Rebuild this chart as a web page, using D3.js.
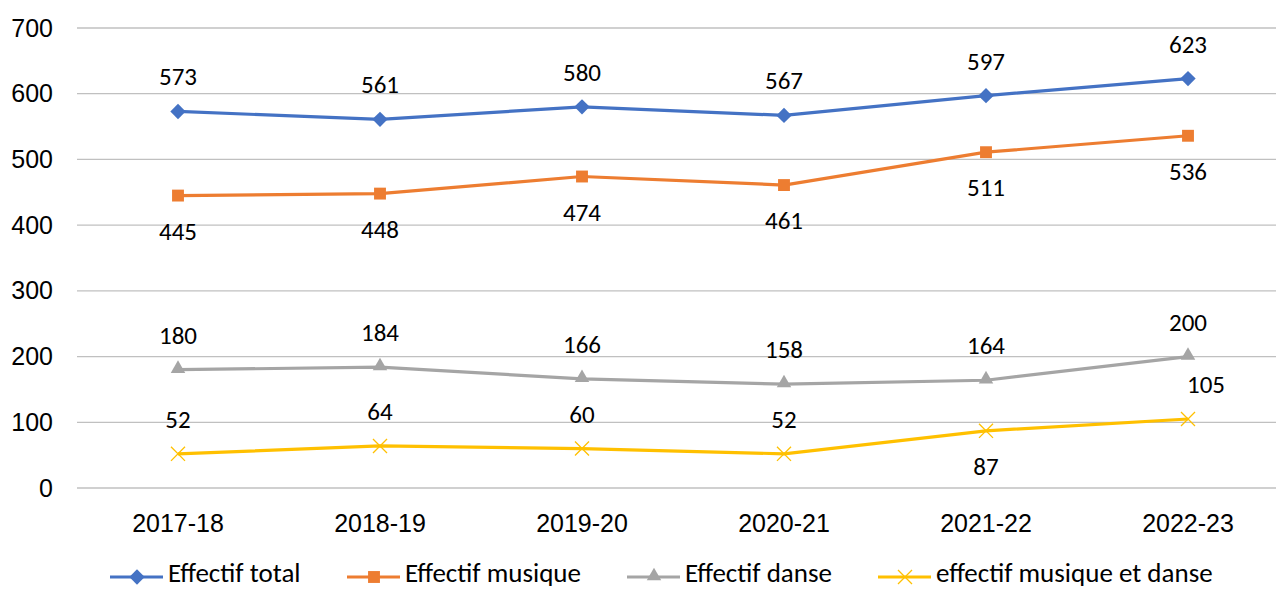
<!DOCTYPE html>
<html>
<head>
<meta charset="utf-8">
<script src="https://cdn.jsdelivr.net/npm/d3@7"></script>
<style>
  body { margin: 0; background: #fff; }
  svg { display: block; font-family: Carlito, Calibri, "Open Sans", sans-serif; }
</style>
</head>
<body>
<svg id="chart" width="1276" height="589"></svg>
<script>
const years = ['2017-18', '2018-19', '2019-20', '2020-21', '2021-22', '2022-23']
const total = [573, 561, 580, 567, 597, 623]
const musique = [445, 448, 474, 461, 511, 536]
const danse = [180, 184, 166, 158, 164, 200]
const musiqueEtDanse = [52, 64, 60, 52, 87, 105]
const yTicks = [0, 100, 200, 300, 400, 500, 600, 700]

// where each data label sits relative to its point
const series = [
    { name: 'Effectif total', values: total, color: '#4472C4', marker: 'diamond', labels: ['t', 't', 't', 't', 't', 't'] },
    { name: 'Effectif musique', values: musique, color: '#ED7D31', marker: 'square', labels: ['b', 'b', 'b', 'b', 'b', 'b'] },
    { name: 'Effectif danse', values: danse, color: '#A5A5A5', marker: 'triangle', labels: ['t', 't', 't', 't', 't', 't'] },
    { name: 'effectif musique et danse', values: musiqueEtDanse, color: '#FFC000', marker: 'cross', labels: ['t', 't', 't', 't', 'b', 'tr'] }
]

const svg = d3.select('#chart')
const plotLeft = 77, plotRight = 1289, plotTop = 28, plotBottom = 488
const fontSize = 25

const x = d3.scaleBand().domain(years).range([plotLeft, plotRight])
const y = d3.scaleLinear().domain([0, 700]).range([plotBottom, plotTop])

// grid
svg.append('g').selectAll('line')
    .data(yTicks)
    .enter()
    .append('line')
    .attr('x1', plotLeft).attr('x2', plotRight)
    .attr('y1', d => y(d)).attr('y2', d => y(d))
    .attr('stroke', '#c0c0c0')
    .attr('stroke-width', 1.3)

const yAxis = svg.append('g')
    .attr('transform', 'translate(' + (plotLeft - 24) + ',0)')
    .call(d3.axisLeft(y).tickValues(yTicks).tickSize(0).tickPadding(0))
yAxis.select('.domain').remove()
yAxis.selectAll('text').attr('font-size', fontSize).attr('fill', '#000').attr('font-family', null)

const xAxis = svg.append('g')
    .attr('transform', 'translate(0,' + plotBottom + ')')
    .call(d3.axisBottom(x).tickSize(0).tickPadding(26))
xAxis.select('.domain').remove()
xAxis.selectAll('text').attr('font-size', fontSize).attr('fill', '#000').attr('font-family', null)

const cx = d => x(d) + x.bandwidth() / 2

const symbols = {
    diamond: d3.symbol().type(d3.symbolDiamond2).size(150),
    square: d3.symbol().type(d3.symbolSquare2).size(180),
    triangle: d3.symbol().type(d3.symbolTriangle2).size(150),
    cross: d3.symbol().type(d3.symbolTimes).size(130)
}

function drawMarker(g, type, color) {
    const path = g.append('path').attr('d', symbols[type]())
    if (type === 'cross') {
        path.attr('fill', 'none').attr('stroke', color).attr('stroke-width', 1.3)
    } else {
        path.attr('fill', color)
    }
    if (type === 'triangle') path.attr('transform', 'translate(0,-1)')
}

const line = d3.line()
    .x((d, i) => cx(years[i]))
    .y(d => y(d))

for (let s of series) {
    const g = svg.append('g')
    g.append('path')
        .datum(s.values)
        .attr('d', line)
        .attr('fill', 'none')
        .attr('stroke', s.color)
        .attr('stroke-width', 3.2)
        .attr('stroke-linejoin', 'round')

    s.values.forEach((v, i) => {
        const m = g.append('g').attr('transform', 'translate(' + cx(years[i]) + ',' + y(v) + ')')
        drawMarker(m, s.marker, s.color)
    })

    g.selectAll('text.label')
        .data(s.values)
        .enter()
        .append('text')
        .attr('class', 'label')
        .attr('x', (d, i) => cx(years[i]) + (s.labels[i] === 'tr' ? 18 : 0))
        .attr('y', (d, i) => y(d) + (s.labels[i] === 'b' ? 44 : -26))
        .attr('text-anchor', 'middle')
        .attr('font-size', fontSize)
        .attr('fill', '#000')
        .text(d => d)
}

// legend, kept just inside the bottom edge
const legendX = [110, 347, 627, 878]
const legend = svg.append('g').attr('transform', 'translate(0,577)')
series.forEach((s, i) => {
    const item = legend.append('g').attr('transform', 'translate(' + legendX[i] + ',0)')
    item.append('line')
        .attr('x1', 0).attr('x2', 53)
        .attr('stroke', s.color).attr('stroke-width', 3.2)
    const m = item.append('g').attr('transform', 'translate(27,0)')
    drawMarker(m, s.marker, s.color)
    item.append('text')
        .attr('x', 58)
        .attr('y', 5)
        .attr('font-size', 27)
        .attr('fill', '#000')
        .text(s.name)
})
</script>
</body>
</html>
